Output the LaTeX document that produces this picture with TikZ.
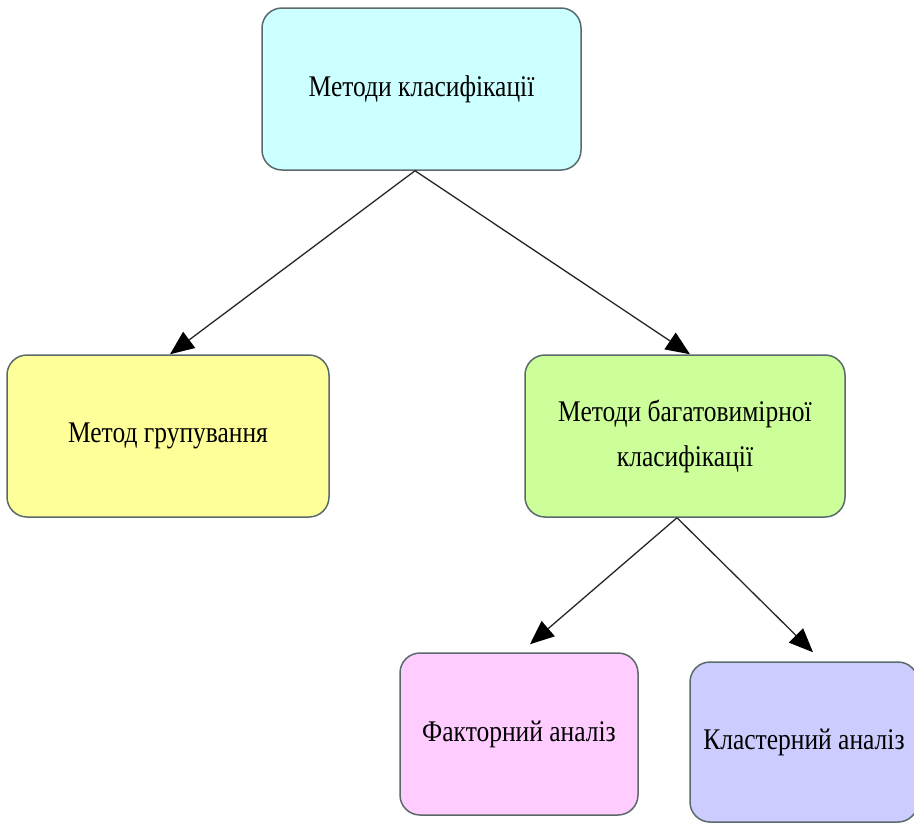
\documentclass[tikz,border=0pt]{standalone}
\usepackage{fontspec}
\setmainfont[FakeStretch=0.85]{Liberation Serif}
\usetikzlibrary{arrows.meta,calc}
\definecolor{boxline}{RGB}{90,105,105}
\definecolor{fcyan}{RGB}{204,255,255}
\definecolor{fyellow}{RGB}{255,255,153}
\definecolor{fgreen}{RGB}{204,255,153}
\definecolor{fpink}{RGB}{255,204,255}
\definecolor{fblue}{RGB}{204,204,255}
\tikzset{
  box/.style={draw=boxline, line width=1.5pt, rounded corners=20pt,
    inner sep=0pt, align=center, font=\fontsize{30}{45}\selectfont},
  arr/.style={draw=black!85, line width=1.3pt,
    -{Triangle[length=24pt,width=20pt,color=black]}}
}
\begin{document}
\begin{tikzpicture}[x=1pt,y=-1pt]
  \useasboundingbox (0,0) rectangle (914,823);
  % boxes
  \node[box, fill=fcyan, minimum width=319pt, minimum height=162pt] (T) at (421.5,89) {Методи класифікації};
  \node[box, fill=fyellow, minimum width=322pt, minimum height=162pt] (L) at (168,436) {Метод групування};
  \node[box, fill=fgreen, minimum width=320pt, minimum height=162pt] (M) at (685,436) {Методи багатовимірної\\класифікації};
  \node[box, fill=fpink, minimum width=238pt, minimum height=162pt] (F) at (519,734) {Факторний аналіз};
  \node[box, fill=fblue, minimum width=228pt, minimum height=160pt] (K) at (804,742) {Кластерний аналіз};
  % connector end points
  \coordinate (t0) at ($(T.south)+(-6.5,0)$);
  \coordinate (m0) at ($(M.south)+(-8,0)$);
  \coordinate (lt) at ($(L.north)+(2,0)$);
  \coordinate (mt) at ($(M.north)+(5,0)$);
  \coordinate (ft) at ($(F.north)+(11,-8)$);
  \coordinate (kt) at ($(K.north)+(9,-9)$);
  % connectors
  \draw[arr] (t0) -- (lt);
  \draw[arr] (t0) -- (mt);
  \draw[arr] (m0) -- (ft);
  \draw[arr] (m0) -- (kt);
\end{tikzpicture}
\end{document}
